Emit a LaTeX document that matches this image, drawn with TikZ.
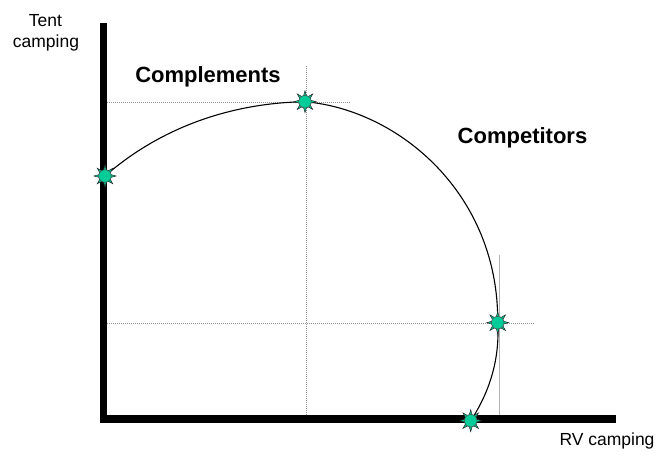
\documentclass[tikz,border=0pt]{standalone}
\usepackage{fontspec}
\setmainfont{Liberation Sans}
\definecolor{spark}{RGB}{0,204,153}
\tikzset{
  axisline/.style={line width=7.5pt, line join=miter},
  guide/.style={draw=gray!85, line width=0.8pt, dash pattern=on 1pt off 1pt},
  guidesolid/.style={draw=gray!60, line width=0.8pt},
  curveline/.style={line width=1.1pt},
  lbl/.style={inner sep=0pt, anchor=base, font=\fontsize{17.5}{21}\selectfont},
  blbl/.style={inner sep=0pt, anchor=base, font=\fontsize{22}{26}\selectfont\bfseries},
  sparkmark/.pic={
    \foreach \a in {0,45,...,315}
      \filldraw[fill=spark, draw=black!85, line width=0.5pt] (\a-17:5.5) -- (\a:11) -- (\a+17:5.5) -- cycle;
    \filldraw[fill=spark, draw=black!70, line width=0.5pt] (0,0) circle (6.3);
  }
}
\begin{document}
\begin{tikzpicture}[x=1pt,y=-1pt]
\useasboundingbox (0,0) rectangle (659,458);
% key points
\coordinate (ytop) at (103.7,23);
\coordinate (origin) at (103.7,419);
\coordinate (xend) at (616,419);
\coordinate (s1) at (105,176);
\coordinate (s2) at (305,101.7);
\coordinate (s3) at (497.7,322.7);
\coordinate (s4) at (470.7,420.7);
% guide lines
\coordinate (g1a) at (107,102);
\coordinate (g1b) at (350,102);
\coordinate (g2a) at (306,66);
\coordinate (g2b) at (306,415);
\coordinate (g3a) at (107,323);
\coordinate (g3b) at (535,323);
\coordinate (g4a) at (499.3,255);
\coordinate (g4b) at (499.3,415);
\draw[guide] (g1a) -- (g1b);
\draw[guide] (g2a) -- (g2b);
\draw[guide] (g3a) -- (g3b);
\draw[guidesolid] (g4a) -- (g4b);
% axes
\draw[axisline] (ytop) -- (origin) -- (xend);
% curve
\draw[curveline] (s1) .. controls (160,128) and (230,103) .. (s2)
  .. controls (400,110) and (499,195) .. (s3)
  .. controls (500,360) and (489,393) .. (s4);
% markers
\pic at (s1) {sparkmark};
\pic at (s2) {sparkmark};
\pic at (s3) {sparkmark};
\pic at (s4) {sparkmark};
% labels
\node[lbl] (tent) at (45.5,26.7) {Tent};
\node[lbl] (camp) at (46,47.5) {camping};
\node[lbl] (rv) at (607,445) {RV camping};
\node[blbl] (compl) at (208,82) {Complements};
\node[blbl] (compet) at (522.5,143) {Competitors};
\end{tikzpicture}
\end{document}
